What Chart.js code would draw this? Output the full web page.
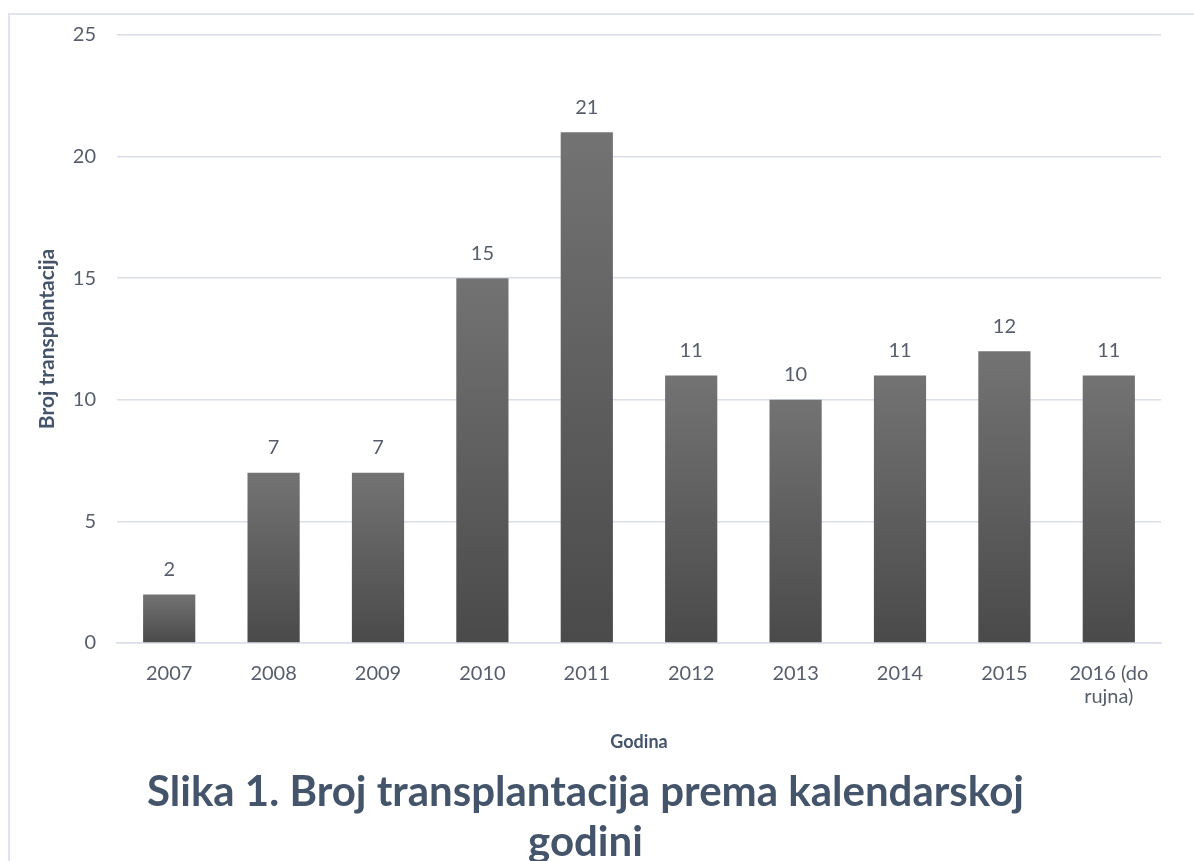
<!DOCTYPE html>
<html>
<head>
<meta charset="utf-8">
<script src="https://cdn.jsdelivr.net/npm/chart.js@4"></script>
<style>
  html, body { margin: 0; padding: 0; background: #fff; overflow: hidden; }
  #okvir {
    position: absolute; left: 8px; top: 13px; right: 0; bottom: 0;
    border-top: 2px solid #dfe4ed; border-left: 2px solid #dfe4ed;
  }
  #wrap { position: absolute; left: 0; top: 0; width: 1194px; height: 867px; }
</style>
</head>
<body>
<div id="okvir"></div>
<div id="wrap"><canvas id="grafik"></canvas></div>
<script>
// podaci sa slike
const godine = ["2007", "2008", "2009", "2010", "2011", "2012", "2013", "2014", "2015", ["2016 (do", "rujna)"]];
const brojTransplantacija = [2, 7, 7, 15, 21, 11, 10, 11, 12, 11];
const yOznake = [0, 5, 10, 15, 20, 25];

const bojaTeksta = "#575e6b";
const bojaNaslova = "#44546a";
const bojaMreze = "#d9dee8";

// gradijent po stupcu: svjetlije gore, tamnije dolje
function bojaStupca(ctx) {
    const chart = ctx.chart;
    const y = chart.scales.y;
    if (!y || ctx.raw == null) return "#5e5e5e";
    const vrh = y.getPixelForValue(ctx.raw);
    const dno = y.getPixelForValue(0);
    if (!isFinite(vrh) || !isFinite(dno) || vrh === dno) return "#5e5e5e";
    const g = chart.ctx.createLinearGradient(0, vrh, 0, dno);
    g.addColorStop(0, "#737373");
    g.addColorStop(1, "#4a4a4a");
    return g;
}

// brojevi iznad stupaca
const oznakeVrijednosti = {
    id: "oznakeVrijednosti",
    afterDatasetsDraw(chart) {
        const c = chart.ctx;
        const meta = chart.getDatasetMeta(0);
        c.save();
        c.font = "20px Lato";
        c.fillStyle = bojaTeksta;
        c.textAlign = "center";
        c.textBaseline = "middle";
        meta.data.forEach((bar, i) => {
            c.fillText(String(brojTransplantacija[i]), bar.x, bar.y - 25);
        });
        c.restore();
    },
};

Chart.defaults.font.family = "Lato, 'Open Sans', sans-serif";

new Chart(document.getElementById("grafik"), {
    type: "bar",
    data: {
        labels: godine,
        datasets: [
            {
                label: "Broj transplantacija",
                data: brojTransplantacija,
                backgroundColor: bojaStupca,
                borderWidth: 0,
                barPercentage: 0.5,
                categoryPercentage: 1,
            },
        ],
    },
    options: {
        responsive: true,
        maintainAspectRatio: false,
        animation: false,
        layout: { padding: { left: 10, right: 33, top: 35, bottom: 0 } },
        plugins: {
            legend: { display: false },
            tooltip: { enabled: false },
            title: {
                display: true,
                position: "bottom",
                text: ["Slika 1. Broj transplantacija prema kalendarskoj", "godini"],
                color: bojaNaslova,
                font: { size: 42, weight: "bold", lineHeight: 1.19 },
                padding: { top: 0, bottom: 0 },
            },
        },
        scales: {
            x: {
                grid: { display: false, drawTicks: false },
                border: { color: bojaMreze, width: 1.5 },
                ticks: { color: bojaTeksta, font: { size: 20, lineHeight: 1.15 }, padding: 19, maxRotation: 0, autoSkip: false },
                title: {
                    display: true,
                    text: "Godina",
                    color: bojaNaslova,
                    font: { size: 18, weight: "bold", lineHeight: 1.2 },
                    padding: { top: 0, bottom: 14 },
                },
                afterFit: (s) => { s.height = 124; },
            },
            y: {
                min: 0,
                max: 25,
                grid: { color: bojaMreze, lineWidth: 1.5, drawTicks: false },
                border: { display: false },
                ticks: { color: bojaTeksta, font: { size: 20 }, padding: 21 },
                afterBuildTicks: (s) => { s.ticks = yOznake.map((v) => ({ value: v })); },
                title: {
                    display: true,
                    text: "Broj transplantacija",
                    color: bojaNaslova,
                    font: { size: 21, weight: "bold", lineHeight: 1.2 },
                    padding: { top: 25, bottom: 0 },
                },
                afterFit: (s) => { s.width = 107; },
            },
        },
    },
    plugins: [oznakeVrijednosti],
});
</script>
</body>
</html>
